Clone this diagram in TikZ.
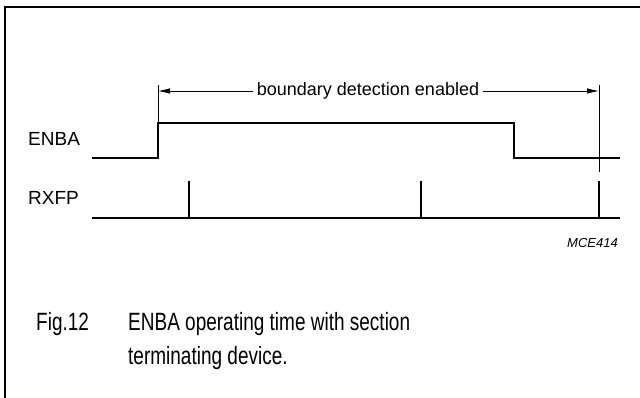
\documentclass[tikz,border=0pt]{standalone}
\usepackage{fontspec}
\setmainfont{Liberation Sans}
\newfontfamily\capfont[FakeStretch=0.76]{Liberation Sans}
\usetikzlibrary{positioning,arrows.meta}

\begin{document}
\begin{tikzpicture}[>={Latex[length=12pt,width=5.5pt]}, x=1pt, y=-1pt]

\tikzset{signal/.style={line width=2.7pt},
  dimline/.style={line width=0.8pt},
  lbl/.style={inner sep=0pt, font=\fontsize{19}{22}\selectfont},
  captxt/.style={inner sep=0pt, anchor=base west, font=\capfont\fontsize{25}{29}\selectfont}}

\useasboundingbox (0,0) rectangle (640,398);
\draw[line width=1.8pt] (5,398)--(5,7)--(640,7);

% ENBA waveform
\coordinate (e0) at (92,158);
\coordinate (e1) at (158,158);
\coordinate (e2) at (158,123);
\coordinate (e3) at (514,123);
\coordinate (e4) at (514,158);
\coordinate (e5) at (620,158);
\draw[signal] (e0)--(e1)--(e2)--(e3)--(e4)--(e5);

% RXFP waveform
\coordinate (r0) at (92,218);
\coordinate (r1) at (620,218);
\draw[signal] (r0)--(r1);
\foreach \x/\n in {189/a,421/b,599/c}{
  \coordinate (p\n) at (\x,218);
  \coordinate (q\n) at (\x,181);
  \draw[signal] (p\n)--(q\n);
}

% dimension
\coordinate (dl) at (158,85);
\coordinate (dr) at (599,85);
\coordinate (drb) at (599,172);
\draw[dimline] (dl)--(e2);
\draw[dimline] (dr)--(drb);
\node[lbl, font=\fontsize{18}{21}\selectfont] (bde) at (368,91) {boundary detection enabled};
\draw[dimline,->] (bde.west)+(-4,0) -- (158,91);
\draw[dimline,->] (bde.east)+(4,0) -- (599,91);

\node[lbl, anchor=west] (enba) at (28,139) {ENBA};
\node[lbl, anchor=west] (rxfp) at (28,198) {RXFP};
\node[inner sep=0pt, anchor=east, font=\itshape\fontsize{13}{15}\selectfont] (code) at (618,243) {MCE414};

% caption
\node[captxt] (fig) at (36,330) {Fig.12};
\node[captxt] (cap1) at (128,330) {ENBA operating time with section};
\node[captxt] (cap2) at (128,364) {terminating device.};

\end{tikzpicture}
\end{document}
